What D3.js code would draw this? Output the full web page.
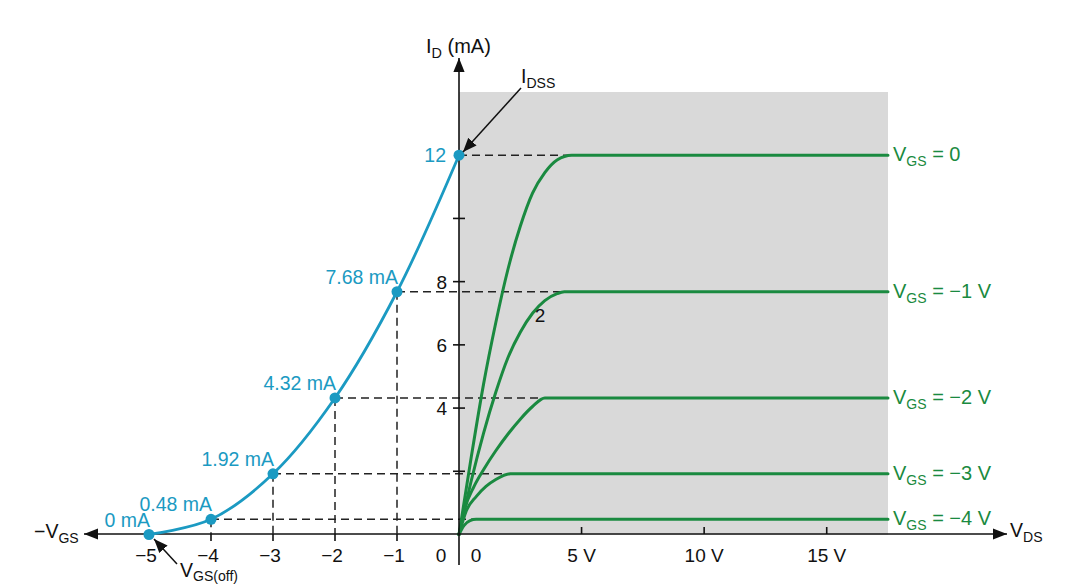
<!DOCTYPE html>
<html>
<head>
<meta charset="utf-8">
<script src="https://cdn.jsdelivr.net/npm/d3@7"></script>
<style>
  html, body { margin: 0; padding: 0; background: #fff; }
  svg { display: block; font-family: "Liberation Sans", Arial, Helvetica, sans-serif; }
</style>
</head>
<body>
<svg id="chart" width="1079" height="587"></svg>
<script>
// ---------- data ----------
const vgsValues = [-5, -4, -3, -2, -1, 0];
const idValues = [0, 0.48, 1.92, 4.32, 7.68, 12];
const idPointLabels = ["0 mA", "0.48 mA", "1.92 mA", "4.32 mA", "7.68 mA", "12"];
const vgsTickValues = [-5, -4, -3, -2, -1, 0];
const vgsTickLabels = ["\u22125", "\u22124", "\u22123", "\u22122", "\u22121", "0"];
const vdsTickValues = [0, 5, 10, 15];
const vdsTickLabels = ["0", "5 V", "10 V", "15 V"];
const idTickValues = [2, 4, 6, 8, 10];
const idTickLabels = ["", "4", "6", "8", ""];

// drain characteristic curves (VDS in V, ID in mA), VGS = 0, -1, -2, -3, -4
const curveGateVoltages = ["0", "\u22121 V", "\u22122 V", "\u22123 V", "\u22124 V"];
const drainVds0 = [0, 0.5, 1.0, 1.5, 2.0, 2.5, 3.0, 3.5, 4.0, 4.6, 17.5];
const drainId0  = [0, 2.45, 4.75, 6.7, 8.4, 9.75, 10.8, 11.45, 11.85, 12, 12];
const drainVds1 = [0, 0.5, 1.0, 1.5, 2.0, 2.5, 3.0, 3.5, 4.0, 4.3, 17.5];
const drainId1  = [0, 1.7, 3.2, 4.5, 5.6, 6.4, 7.0, 7.4, 7.62, 7.68, 7.68];
const drainVds2 = [0, 0.25, 0.6, 1.0, 1.5, 2.0, 2.5, 3.0, 3.5, 17.5];
const drainId2  = [0, 0.85, 1.5, 2.05, 2.65, 3.18, 3.65, 4.05, 4.32, 4.32];
const drainVds3 = [0, 0.3, 0.7, 1.1, 1.5, 2.1, 17.5];
const drainId3  = [0, 0.75, 1.2, 1.52, 1.74, 1.92, 1.92];
const drainVds4 = [0, 0.2, 0.45, 0.7, 17.5];
const drainId4  = [0, 0.28, 0.44, 0.48, 0.48];
const pinchOffVds = [4.6, 4.3, 3.5, 2.1, 0.7];
const vdsMax = 17.5;
const idMax = 14;

// ---------- styles ----------
const BLUE = "#1b9ac2";
const GREEN = "#1a8a40";
const GRAY = "#d9d9d9";
const INK = "#111";

const svg = d3.select("#chart");

const xV = d3.scaleLinear().domain([-5, 0]).range([149, 459]);
const xD = d3.scaleLinear().domain([0, vdsMax]).range([459, 888]);
const y = d3.scaleLinear().domain([0, idMax]).range([534.5, 92]);
const x0 = xD(0), yAxisY = 534;

// gray saturation region
svg.append("rect")
  .attr("x", xD(0)).attr("y", y(idMax))
  .attr("width", xD(vdsMax) - xD(0)).attr("height", y(0) - y(idMax))
  .attr("fill", GRAY);

// markers
const defs = svg.append("defs");
defs.append("marker").attr("id", "arrow").attr("viewBox", "0 0 10 10")
  .attr("refX", 10).attr("refY", 5).attr("markerWidth", 14).attr("markerHeight", 14)
  .attr("markerUnits", "userSpaceOnUse").attr("orient", "auto")
  .append("path").attr("d", "M0,1 L10,5 L0,9 Z").attr("fill", INK);

// dashed projection lines
const dash = "8,5";
vgsValues.forEach((v, i) => {
  if (i === 0) return;
  const curveIdx = 5 - i; // 0 -> VGS 0
  svg.append("line")
    .attr("x1", xV(v)).attr("x2", xD(pinchOffVds[curveIdx]))
    .attr("y1", y(idValues[i])).attr("y2", y(idValues[i]))
    .attr("stroke", "#222").attr("stroke-width", 1.5).attr("stroke-dasharray", dash);
  if (v !== 0) {
    svg.append("line")
      .attr("x1", xV(v)).attr("x2", xV(v))
      .attr("y1", y(idValues[i])).attr("y2", yAxisY)
      .attr("stroke", "#222").attr("stroke-width", 1.5).attr("stroke-dasharray", dash);
  }
});

// drain curves
const drainSeries = [
  [drainVds0, drainId0], [drainVds1, drainId1], [drainVds2, drainId2],
  [drainVds3, drainId3], [drainVds4, drainId4]
];
const drainLine = d3.line().x(d => xD(d[0])).y(d => y(d[1])).curve(d3.curveMonotoneX);
drainSeries.forEach(([vx, iy], k) => {
  const pts = vx.map((v, j) => [v, iy[j]]);
  svg.append("path").attr("d", drainLine(pts))
    .attr("fill", "none").attr("stroke", GREEN).attr("stroke-width", 3)
    .attr("stroke-linecap", "round");
  const lastI = iy[iy.length - 1];
  const t = svg.append("text").attr("x", xD(vdsMax) + 5).attr("y", y(lastI) + 6)
    .attr("fill", GREEN).attr("font-size", 20);
  t.append("tspan").text("V");
  t.append("tspan").attr("font-size", 14).attr("dy", 5).text("GS");
  t.append("tspan").attr("dy", -5).text(" = " + curveGateVoltages[k]);
});

// axes lines
svg.append("line").attr("x1", 459).attr("x2", 459).attr("y1", 565).attr("y2", 58)
  .attr("stroke", INK).attr("stroke-width", 1.6).attr("marker-end", "url(#arrow)");
svg.append("line").attr("x1", x0).attr("x2", 1007).attr("y1", yAxisY).attr("y2", yAxisY)
  .attr("stroke", INK).attr("stroke-width", 1.6).attr("marker-end", "url(#arrow)");
svg.append("line").attr("x1", x0).attr("x2", 84).attr("y1", yAxisY).attr("y2", yAxisY)
  .attr("stroke", INK).attr("stroke-width", 1.6).attr("marker-end", "url(#arrow)");

// y ticks
idTickValues.forEach((v, i) => {
  svg.append("line").attr("x1", 453).attr("x2", 465).attr("y1", y(v)).attr("y2", y(v))
    .attr("stroke", INK).attr("stroke-width", 1.6);
  if (idTickLabels[i]) {
    svg.append("text").attr("x", 447).attr("y", y(v) + 7).attr("text-anchor", "end")
      .attr("font-size", 19).attr("fill", INK).text(idTickLabels[i]);
  }
});

// VGS ticks and labels
vgsTickValues.forEach((v, i) => {
  if (v > -5 && v < 0) {
    svg.append("line").attr("x1", xV(v)).attr("x2", xV(v)).attr("y1", yAxisY).attr("y2", 541)
      .attr("stroke", INK).attr("stroke-width", 1.6);
  }
  const lx = v === 0 ? xV(v) - 18 : xV(v) - 3;
  svg.append("text").attr("x", lx).attr("y", 562).attr("text-anchor", "middle")
    .attr("font-size", 19).attr("fill", INK).text(vgsTickLabels[i]);
});

// VDS ticks and labels
vdsTickValues.forEach((v, i) => {
  if (v > 0) {
    svg.append("line").attr("x1", xD(v)).attr("x2", xD(v)).attr("y1", 527).attr("y2", yAxisY)
      .attr("stroke", INK).attr("stroke-width", 1.6);
  }
  const lx = v === 0 ? xD(v) + 17 : xD(v);
  svg.append("text").attr("x", lx).attr("y", 562).attr("text-anchor", "middle")
    .attr("font-size", 19).attr("fill", INK).text(vdsTickLabels[i]);
});

// transfer curve
const tPts = vgsValues.map((v, i) => [v, idValues[i]]);
const tLine = d3.line().x(d => xV(d[0])).y(d => y(d[1])).curve(d3.curveCatmullRom.alpha(0.5));
svg.append("path").attr("d", tLine(tPts)).attr("fill", "none")
  .attr("stroke", BLUE).attr("stroke-width", 2.8);
svg.selectAll("circle.pt").data(tPts).enter().append("circle")
  .attr("class", "pt").attr("cx", d => xV(d[0])).attr("cy", d => y(d[1])).attr("r", 5.5)
  .attr("fill", BLUE);
tPts.forEach((d, i) => {
  const isTop = i === tPts.length - 1;
  svg.append("text")
    .attr("x", isTop ? 446 : xV(d[0]) + 1)
    .attr("y", isTop ? y(d[1]) + 7 : y(d[1]) - 8)
    .attr("text-anchor", "end").attr("font-size", 19.5).attr("fill", BLUE)
    .text(idPointLabels[i]);
});

// axis titles
function subText(x, yy, main, sub, rest, size, dy) {
  const d = dy || 5;
  const t = svg.append("text").attr("x", x).attr("y", yy).attr("font-size", size)
    .attr("fill", INK);
  t.append("tspan").text(main);
  t.append("tspan").attr("font-size", size * 0.72).attr("dy", d).text(sub);
  if (rest) t.append("tspan").attr("dy", -d).text(rest);
  return t;
}
subText(426, 53, "I", "D", " (mA)", 20);
subText(521, 83, "I", "DSS", null, 19.5);
subText(34, 538, "\u2212V", "GS", null, 19.5);
subText(1010, 537, "V", "DS", null, 19.5);
subText(180, 577, "V", "GS(off)", null, 19.5, 4);

// annotation arrows
svg.append("line").attr("x1", 521).attr("y1", 88).attr("x2", 463).attr("y2", 152)
  .attr("stroke", INK).attr("stroke-width", 1.5).attr("marker-end", "url(#arrow)");
svg.append("line").attr("x1", 177).attr("y1", 564).attr("x2", 154).attr("y2", 539)
  .attr("stroke", INK).attr("stroke-width", 1.5).attr("marker-end", "url(#arrow)");

// stray label
svg.append("text").attr("x", 540).attr("y", 322).attr("text-anchor", "middle")
  .attr("font-size", 19).attr("fill", INK).text("2");
</script>
</body>
</html>
